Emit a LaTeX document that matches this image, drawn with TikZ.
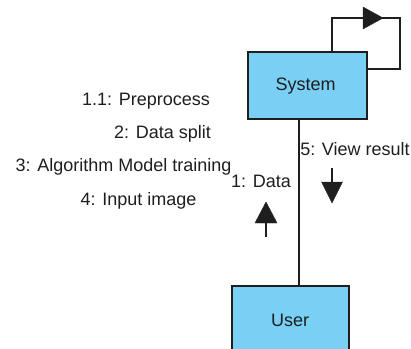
\documentclass[tikz,border=0pt]{standalone}
\usepackage{fontspec}
\setmainfont{Liberation Sans}
\definecolor{boxfill}{RGB}{122,207,245}
\definecolor{ink}{RGB}{30,30,30}
\begin{document}
\begin{tikzpicture}[x=1pt,y=-1pt,
  objbox/.style={draw=ink,fill=boxfill,line width=1.2pt,minimum width=#1,inner sep=0pt},
  lbl/.style={anchor=base,inner sep=0pt,text=ink,font=\fontsize{18}{21}\selectfont},
  wire/.style={draw=ink,line width=1.1pt},
  tip/.style={fill=ink,draw=ink,line width=0.4pt,line join=miter}]
\useasboundingbox (0,0) rectangle (411,348);

% objects
\node[objbox=119pt,minimum height=67pt] (sys) at (307.5,85.5) {};
\node[objbox=117pt,minimum height=68pt] (usr) at (290.5,320) {};
\node[lbl] (systxt) at (305.5,90.3) {System};
\node[lbl] (usrtxt) at (290,326) {User};

% link between the objects
\coordinate (lx) at (299,0);
\draw[wire] (sys.south -| lx) -- (usr.north -| lx);

% self link on System
\coordinate (lpa) at (332,0);
\coordinate (lpb) at (400,18);
\coordinate (lpc) at (0,69);
\draw[wire] (sys.north -| lpa) |- (lpb) |- (sys.east |- lpc);
\coordinate (sa) at (363,18);
\fill[tip] (sa) ++(0,-11) -- ++(20,11) -- ++(-20,11) -- cycle;

% message arrows
\coordinate (ua) at (266,237);
\coordinate (ub) at (266,223);
\draw[wire] (ua) -- (ub);
\fill[tip] (ub) ++(-11,0) -- ++(11,-21) -- ++(11,21) -- cycle;
\coordinate (da) at (332,168);
\coordinate (db) at (332,182);
\draw[wire] (da) -- (db);
\fill[tip] (db) ++(-10.5,0) -- ++(10.5,21) -- ++(10.5,-21) -- cycle;

% message labels
\node[lbl] (m11) at (146,105) {1.1: Preprocess};
\node[lbl] (m2) at (162.5,138.3) {2: Data split};
\node[lbl] (m3) at (123.5,171) {3: Algorithm Model training};
\node[lbl] (m4) at (138.5,205) {4: Input image};
\node[lbl] (m1) at (261,187.3) {1: Data};
\node[lbl] (m5) at (355,155) {5: View result};
\end{tikzpicture}
\end{document}
